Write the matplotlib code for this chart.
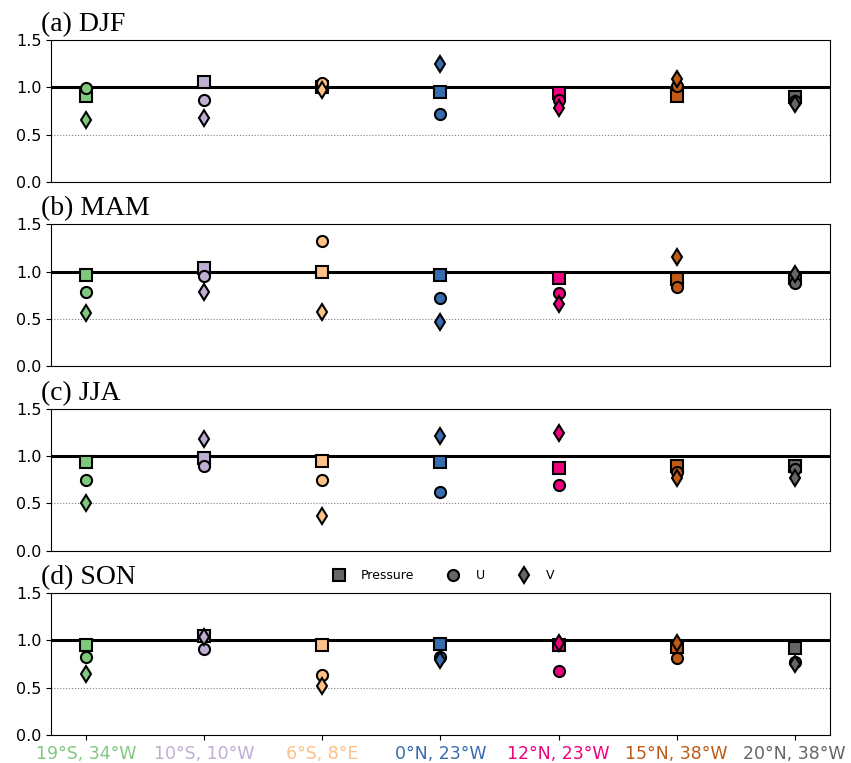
import matplotlib
matplotlib.use("Agg")
import matplotlib.pyplot as plt
from matplotlib.lines import Line2D

sites = ["19°S, 34°W", "10°S, 10°W", "6°S, 8°E", "0°N, 23°W",
         "12°N, 23°W", "15°N, 38°W", "20°N, 38°W"]
site_colors = ["#7fc97f", "#beaed4", "#fdc086", "#386cb0",
               "#f0027f", "#bf5b17", "#666666"]

seasons = ["(a) DJF", "(b) MAM", "(c) JJA", "(d) SON"]

djf_pressure = [0.91, 1.06, 1.00, 0.95, 0.94, 0.91, 0.90]
djf_u        = [0.99, 0.86, 1.05, 0.72, 0.87, 1.01, 0.85]
djf_v        = [0.65, 0.67, 0.97, 1.25, 0.78, 1.09, 0.82]

mam_pressure = [0.96, 1.04, 1.00, 0.96, 0.935, 0.92, 0.93]
mam_u        = [0.79, 0.95, 1.32, 0.72, 0.77, 0.84, 0.88]
mam_v        = [0.56, 0.79, 0.57, 0.47, 0.66, 1.15, 0.97]

jja_pressure = [0.935, 0.98, 0.946, 0.935, 0.875, 0.90, 0.89]
jja_u        = [0.75, 0.89, 0.75, 0.62, 0.69, 0.83, 0.865]
jja_v        = [0.50, 1.18, 0.367, 1.21, 1.24, 0.77, 0.77]

son_pressure = [0.955, 1.05, 0.95, 0.966, 0.95, 0.93, 0.92]
son_u        = [0.83, 0.91, 0.63, 0.825, 0.68, 0.81, 0.77]
son_v        = [0.64, 1.04, 0.52, 0.79, 0.97, 0.97, 0.755]

data = [
    (djf_pressure, djf_u, djf_v),
    (mam_pressure, mam_u, mam_v),
    (jja_pressure, jja_u, jja_v),
    (son_pressure, son_u, son_v),
]
var_names = ["Pressure", "U", "V"]
var_markers = ["s", "o", "d"]

fig = plt.figure(figsize=(8.51, 7.63), dpi=100)
axes = fig.subplots(4, 1)
fig.subplots_adjust(left=0.0599, right=0.9753, top=0.9476, bottom=0.0367, hspace=0.30)

x = list(range(len(sites)))
for k, ax in enumerate(axes):
    ax.axhline(1.0, color="black", lw=2.2, zorder=1)
    ax.axhline(0.5, color="grey", lw=0.8, ls=":", zorder=1)
    for vals, mk in zip(data[k], var_markers):
        for i in x:
            ax.plot(x[i], vals[i], ls="none", marker=mk, ms=8,
                    mfc=site_colors[i], mec="black", mew=1.5, zorder=3)
    ax.set_xlim(-0.3, 6.3)
    ax.set_ylim(0, 1.5)
    ax.set_yticks([0, 0.5, 1.0, 1.5])
    ax.set_yticklabels(["0.0", "0.5", "1.0", "1.5"])
    ax.tick_params(axis="y", labelsize=11.5)
    ax.text(-0.013, 1.062, seasons[k], transform=ax.transAxes,
            fontfamily="Liberation Serif", fontsize=20, ha="left", va="baseline")
    if k < 3:
        ax.set_xticks([])
    else:
        ax.set_xticks(x)
        ax.set_xticklabels(sites, fontsize=12.5)
        for lab, c in zip(ax.get_xticklabels(), site_colors):
            lab.set_color(c)

handles = [Line2D([], [], ls="none", marker=m, ms=8, mfc="#666666",
                  mec="black", mew=1.5, label=n)
           for m, n in zip(var_markers, var_names)]
axes[3].legend(handles=handles, loc="lower center", bbox_to_anchor=(0.5, 1.0),
               ncol=3, frameon=False, fontsize=9, columnspacing=2.1)

fig.savefig("out.png", dpi=100)
